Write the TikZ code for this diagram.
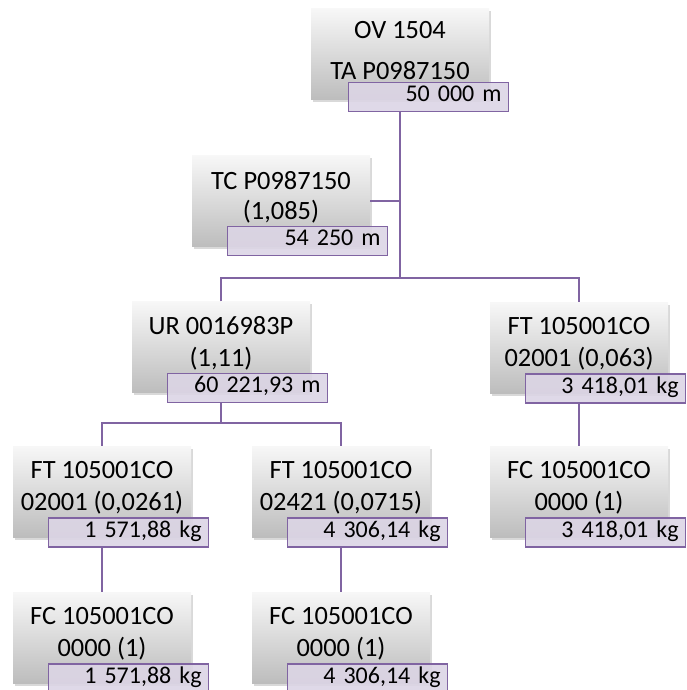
\documentclass[tikz,border=0pt]{standalone}
\usepackage{fontspec}
\setmainfont{Carlito}
\usetikzlibrary{shadows,calc}
\definecolor{pur}{RGB}{128,100,162}
\definecolor{lav}{RGB}{220,213,229}
\tikzset{
  box/.style={minimum width=178pt, minimum height=91pt, inner sep=0pt,
    top color=white!97!black, bottom color=white!74!black,
    drop shadow={shadow xshift=1.5pt, shadow yshift=-2.5pt, opacity=0.3}},
  qty/.style={draw=pur, line width=1.5pt, fill=lav, fill opacity=0.9, text opacity=1,
    minimum width=160pt, minimum height=29pt, inner sep=0pt, anchor=north west,
    font=\fontsize{24}{28}\selectfont, align=right, text width=146pt,
    text height=15pt, text depth=5pt},
  txt/.style={font=\fontsize{26.4}{32}\selectfont, align=center, inner sep=0pt},
  conn/.style={draw=pur, line width=2pt}
}
\begin{document}
\begin{tikzpicture}[x=1pt, y=-1pt]
\useasboundingbox (0,0) rectangle (686,690);
% boxes
\node[box] (ov)  at (400,54)    {};
\node[box] (tc)  at (281,201)   {};
\node[box] (ur)  at (221,347)   {};
\node[box] (ftR) at (579,347.5) {};
\node[box] (ft1) at (102,491.5) {};
\node[box] (ft2) at (341,491.5) {};
\node[box] (fcR) at (579,491.5) {};
\node[box] (fc1) at (102,637.5) {};
\node[box] (fc2) at (341,637.5) {};
% texts
\node[txt] (ovT)  at ($(ov.center)+(0,-3)$)  {OV 1504\\[9pt]TA P0987150};
\node[txt] (tcT)  at ($(tc.center)+(0,-4)$)  {TC P0987150\\[-2pt](1,085)};
\node[txt] (urT)  at ($(ur.center)+(0,-4)$)  {UR 0016983P\\(1,11)};
\node[txt] (ftRT) at ($(ftR.center)+(0,-4)$) {FT 105001CO\\02001 (0,063)};
\node[txt] (ft1T) at ($(ft1.center)+(0,-4)$) {FT 105001CO\\02001 (0,0261)};
\node[txt] (ft2T) at ($(ft2.center)+(0,-4)$) {FT 105001CO\\02421 (0,0715)};
\node[txt] (fcRT) at ($(fcR.center)+(0,-4)$) {FC 105001CO\\0000 (1)};
\node[txt] (fc1T) at ($(fc1.center)+(0,-4)$) {FC 105001CO\\0000 (1)};
\node[txt] (fc2T) at ($(fc2.center)+(0,-4)$) {FC 105001CO\\0000 (1)};
% quantity labels
\node[qty] (ovL)  at ($(ov.south west)+(37,-18)$)  {50 000 m};
\node[qty] (tcL)  at ($(tc.south west)+(35,-21)$)  {54 250 m};
\node[qty] (urL)  at ($(ur.south west)+(35,-20)$)  {60 221,93 m};
\node[qty] (ftRL) at ($(ftR.south west)+(35,-20)$) {3 418,01 kg};
\node[qty] (ft1L) at ($(ft1.south west)+(35,-20)$) {1 571,88 kg};
\node[qty] (ft2L) at ($(ft2.south west)+(35,-20)$) {4 306,14 kg};
\node[qty] (fcRL) at ($(fcR.south west)+(35,-20)$) {3 418,01 kg};
\node[qty] (fc1L) at ($(fc1.south west)+(35,-20)$) {1 571,88 kg};
\node[qty] (fc2L) at ($(fc2.south west)+(35,-20)$) {4 306,14 kg};
% connectors
\coordinate (bus1) at (400,278);
\coordinate (bus2) at (221,423);
\draw[conn] (ov.center |- ovL.south) -- (bus1);
\draw[conn] (tc.east) -- (tc.east -| bus1);
\draw[conn] (ur.north) -- (ur.north |- bus1) -- (ftR.north |- bus1) -- (ftR.north);
\draw[conn] (ur.center |- urL.south) -- (bus2);
\draw[conn] (ft1.north) -- (ft1.north |- bus2) -- (ft2.north |- bus2) -- (ft2.north);
\draw[conn] (ftR.center |- ftRL.south) -- (fcR.north);
\draw[conn] (ft1.center |- ft1L.south) -- (fc1.north);
\draw[conn] (ft2.center |- ft2L.south) -- (fc2.north);
\end{tikzpicture}
\end{document}
